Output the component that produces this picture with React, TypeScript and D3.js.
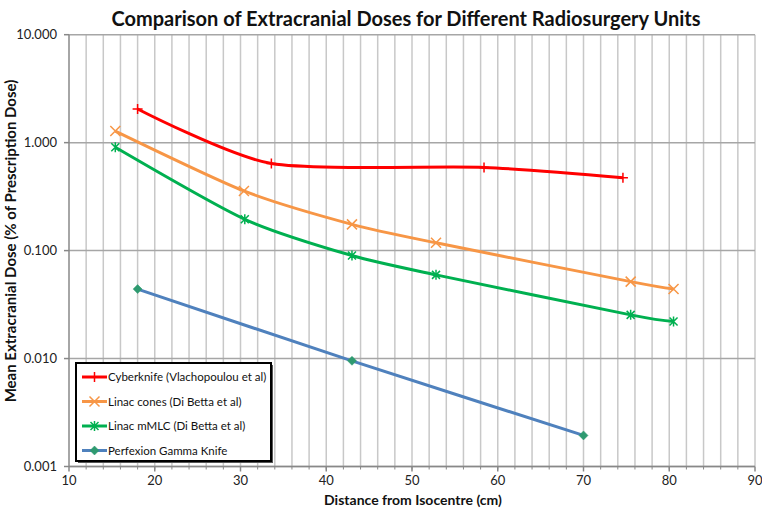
import React from "react";
import * as d3 from "d3";

const cyberX = [18, 33.6, 58.4, 74.6];
const cyberY = [2.05, 0.64, 0.59, 0.474];
const conesX = [15.4, 30.4, 43.0, 52.8, 75.5, 80.5];
const conesY = [1.28, 0.357, 0.175, 0.118, 0.0516, 0.044];
const mlcX = [15.4, 30.5, 43.0, 52.8, 75.5, 80.5];
const mlcY = [0.906, 0.195, 0.09, 0.0596, 0.0254, 0.022];
const gkX = [18.0, 43.0, 70.0];
const gkY = [0.044, 0.00953, 0.00194];

const seriesNames = [
  "Cyberknife (Vlachopoulou et al)",
  "Linac cones (Di Betta et al)",
  "Linac mMLC (Di Betta et al)",
  "Perfexion Gamma Knife",
];
const yTicks = [0.001, 0.01, 0.1, 1, 10];
const yTickLabels = ["0.001", "0.010", "0.100", "1.000", "10.000"];
const xTicks = [10, 20, 30, 40, 50, 60, 70, 80, 90];

const W = 762, H = 511;
const x = d3.scaleLinear().domain([10, 90]).range([69, 755]);
const y = d3.scaleLog().domain([0.001, 10]).range([466.5, 34.7]);
const FONT = "Lato, 'Open Sans', sans-serif";

type S = { xs: number[]; ys: number[]; color: string; marker: string; mcolor: string };
const series: S[] = [
  { xs: cyberX, ys: cyberY, color: "#FF0000", marker: "plus", mcolor: "#FF0000" },
  { xs: conesX, ys: conesY, color: "#F79646", marker: "x", mcolor: "#F79646" },
  { xs: mlcX, ys: mlcY, color: "#00B050", marker: "star", mcolor: "#00B050" },
  { xs: gkX, ys: gkY, color: "#4F81BD", marker: "diamond", mcolor: "#2E9A70" },
];

function Marker({ kind, cx, cy, color }: { kind: string; cx: number; cy: number; color: string }) {
  const r = 5;
  if (kind === "plus")
    return (
      <path d={`M${cx - r},${cy}H${cx + r}M${cx},${cy - r}V${cy + r}`} stroke={color} strokeWidth={1.5} fill="none" />
    );
  if (kind === "x")
    return (
      <path d={`M${cx - r},${cy - r}L${cx + r},${cy + r}M${cx - r},${cy + r}L${cx + r},${cy - r}`} stroke={color} strokeWidth={1.5} fill="none" />
    );
  if (kind === "star")
    return (
      <path d={`M${cx - 4},${cy - 4}L${cx + 4},${cy + 4}M${cx - 4},${cy + 4}L${cx + 4},${cy - 4}M${cx},${cy - 5}V${cy + 5}`} stroke={color} strokeWidth={1.5} fill="none" />
    );
  return <path d={`M${cx},${cy - 4.5}L${cx + 4.5},${cy}L${cx},${cy + 4.5}L${cx - 4.5},${cy}Z`} fill={color} stroke={color} strokeWidth={0.5} />;
}

export default function App() {
  const line = d3
    .line<[number, number]>()
    .x((d) => x(d[0]))
    .y((d) => y(d[1]))
    .curve(d3.curveCardinal.tension(0.3));

  const minor = d3.range(12, 90, 2);
  const legX = 76, legY = 363, legW = 195, legH = 98;

  return (
    <svg width={W} height={H} style={{ position: "absolute", left: 0, top: 0, background: "#fff" }} fontFamily={FONT}>
      <rect width={W} height={H} fill="#fff" />
      {minor.map((v) => (
        <line key={"v" + v} x1={x(v)} x2={x(v)} y1={y(10)} y2={y(0.001)} stroke="#C8C8C8" strokeWidth={1.5} />
      ))}
      <line x1={x(90)} x2={x(90)} y1={y(10)} y2={y(0.001)} stroke="#C8C8C8" strokeWidth={1.5} />
      {yTicks.map((v) => (
        <line key={"h" + v} x1={x(10)} x2={x(90)} y1={y(v)} y2={y(v)} stroke="#A6A6A6" strokeWidth={1.5} />
      ))}
      <line x1={x(10)} x2={x(10)} y1={y(10)} y2={y(0.001)} stroke="#888" strokeWidth={1.5} />
      <line x1={x(10)} x2={x(90)} y1={y(0.001)} y2={y(0.001)} stroke="#888" strokeWidth={1.5} />
      {yTicks.map((v) => (
        <line key={"yt" + v} x1={x(10) - 5} x2={x(10)} y1={y(v)} y2={y(v)} stroke="#888" strokeWidth={1.5} />
      ))}
      {minor.map((v) => (
        <line key={"xm" + v} x1={x(v)} x2={x(v)} y1={y(0.001)} y2={y(0.001) + 3} stroke="#888" strokeWidth={1} />
      ))}
      {xTicks.map((v) => (
        <line key={"xt" + v} x1={x(v)} x2={x(v)} y1={y(0.001)} y2={y(0.001) + 5} stroke="#888" strokeWidth={1.5} />
      ))}
      {yTicks.map((v, i) => (
        <text key={"yl" + v} x={57} y={y(v)} dy="0.35em" textAnchor="end" fontSize={13} fill="#222">
          {yTickLabels[i]}
        </text>
      ))}
      {xTicks.map((v) => (
        <text key={"xl" + v} x={x(v)} y={485} textAnchor="middle" fontSize={13} fill="#222">
          {v}
        </text>
      ))}
      {series.map((s, i) => {
        const pts = s.xs.map((xv, j) => [xv, s.ys[j]] as [number, number]);
        return (
          <g key={"s" + i}>
            <path d={line(pts) || ""} fill="none" stroke={s.color} strokeWidth={3} />
            {pts.map((p, j) => (
              <Marker key={j} kind={s.marker} cx={x(p[0])} cy={y(p[1])} color={s.mcolor} />
            ))}
          </g>
        );
      })}
      <text x={406} y={26} textAnchor="middle" fontSize={20} fontWeight="bold" fill="#111">
        Comparison of Extracranial Doses for Different Radiosurgery Units
      </text>
      <text x={413} y={505} textAnchor="middle" fontSize={14} fontWeight="bold" fill="#111">
        Distance from Isocentre (cm)
      </text>
      <text transform="translate(16,241) rotate(-90)" textAnchor="middle" fontSize={15} fontWeight="bold" fill="#111">
        Mean Extracranial Dose (% of Prescription Dose)
      </text>
      <rect x={legX + 2} y={legY + 2} width={legW} height={legH} fill="#555" />
      <rect x={legX} y={legY} width={legW} height={legH} fill="#fff" stroke="#000" strokeWidth={2} />
      {series.map((s, i) => {
        const cy = legY + 14 + i * 24.5;
        return (
          <g key={"l" + i}>
            <line x1={legX + 6} x2={legX + 31} y1={cy} y2={cy} stroke={s.color} strokeWidth={3} />
            <Marker kind={s.marker} cx={legX + 18.5} cy={cy} color={s.mcolor} />
            <text x={legX + 32} y={cy} dy="0.35em" fontSize={11.5} fill="#111">
              {seriesNames[i]}
            </text>
          </g>
        );
      })}
    </svg>
  );
}
